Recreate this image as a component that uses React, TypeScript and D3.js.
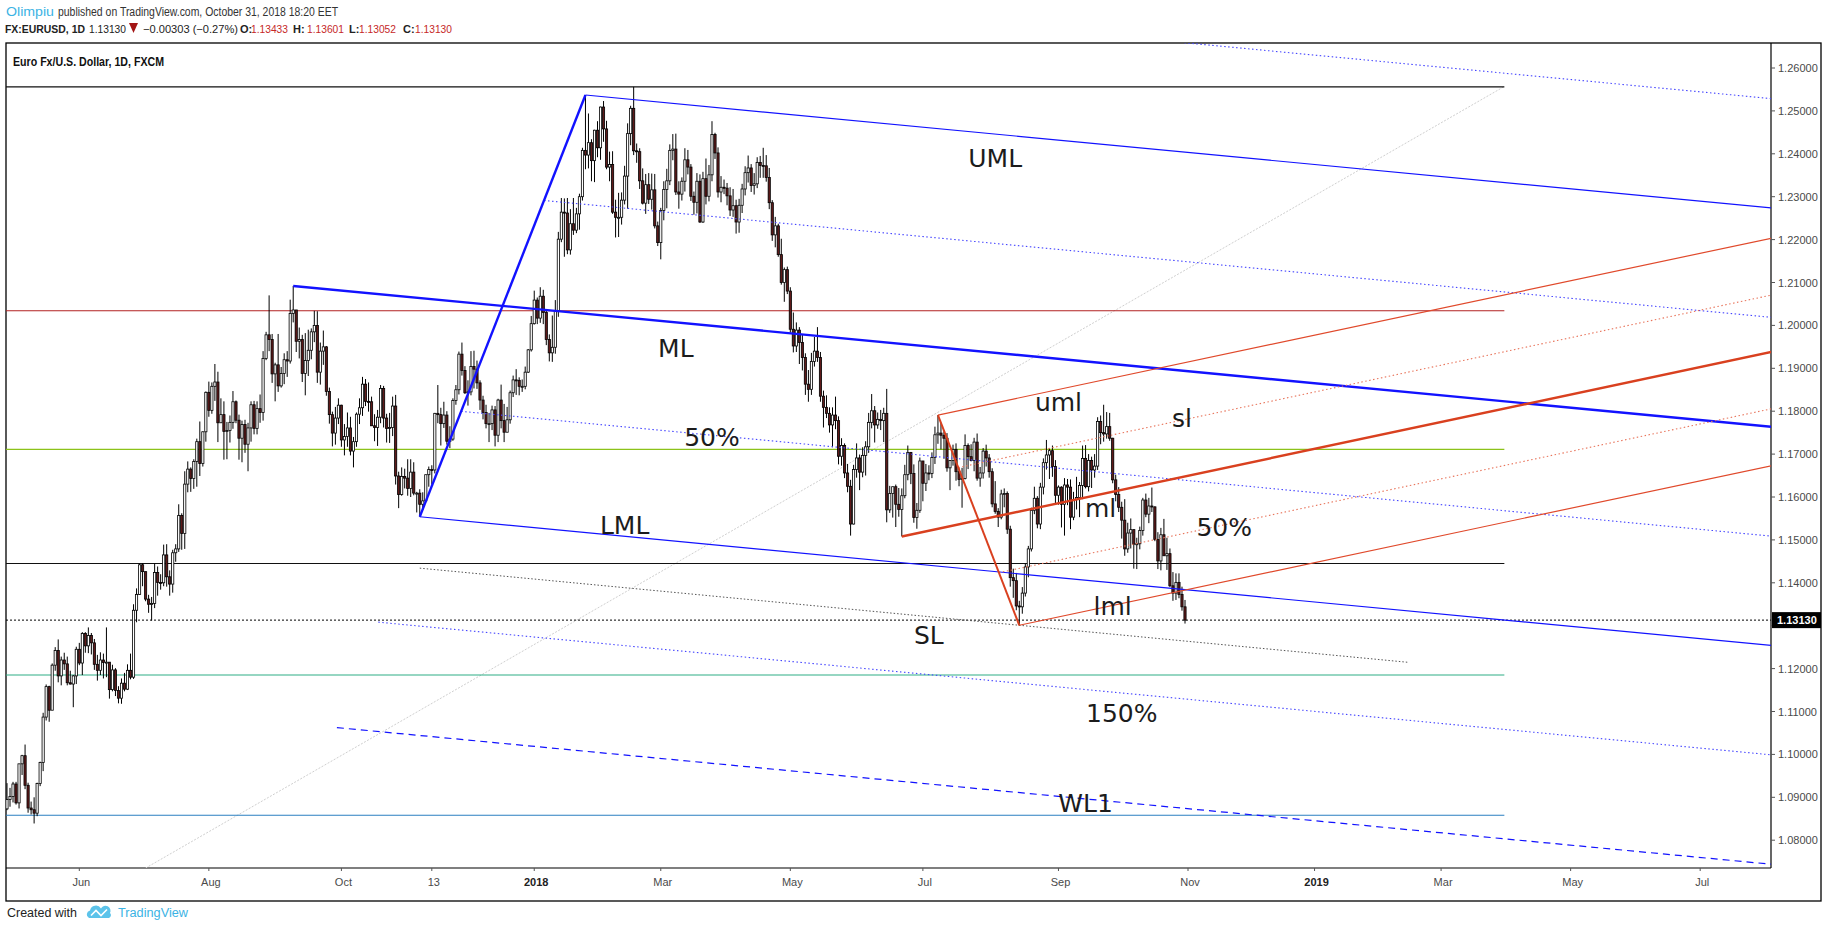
import React from 'react';
import * as d3 from 'd3';

// Daily bars, [high, low, close] in pips (price x 10000); open = previous close
const firstOpen = 10873;
const apr2017 = [[10933, 10870, 10895]];
const may2017 = [
  [10922, 10878, 10902], [10936, 10888, 10931], [10936, 10883, 10887], [10978, 10874, 10978], [10999, 10952, 10997],
  [11023, 10919, 10928], [10934, 10864, 10875], [10890, 10860, 10871], [10900, 10839, 10863], [10934, 10856, 10932],
  [10983, 10926, 10981], [11097, 10961, 11087], [11163, 11079, 11158], [11160, 11076, 11103], [11212, 11104, 11208],
  [11250, 11195, 11242], [11268, 11168, 11183], [11228, 11161, 11220], [11237, 11197, 11211], [11228, 11161, 11167],
  [11195, 11163, 11164], [11185, 11110, 11183], [11251, 11164, 11245],
];
const jun2017 = [
  [11260, 11208, 11213], [11285, 11185, 11282],
  [11285, 11237, 11253], [11296, 11236, 11277], [11283, 11233, 11260], [11269, 11197, 11210], [11232, 11172, 11196],
  [11238, 11185, 11220], [11235, 11177, 11214], [11296, 11180, 11215], [11213, 11130, 11151], [11209, 11147, 11197],
  [11201, 11136, 11149], [11159, 11119, 11131], [11177, 11118, 11166], [11190, 11147, 11152], [11210, 11150, 11196],
  [11235, 11175, 11180], [11350, 11176, 11336], [11387, 11308, 11373], [11445, 11372, 11442], [11446, 11392, 11426],
];
const jul2017 = [
  [11424, 11357, 11362], [11372, 11330, 11350], [11367, 11312, 11352], [11445, 11341, 11424], [11438, 11370, 11401],
  [11420, 11384, 11400], [11489, 11392, 11465], [11490, 11391, 11414], [11429, 11370, 11397], [11477, 11377, 11470],
  [11490, 11449, 11479], [11583, 11472, 11557], [11562, 11477, 11515], [11660, 11479, 11630], [11683, 11611, 11665],
  [11669, 11612, 11643], [11688, 11619, 11683], [11736, 11624, 11729], [11776, 11649, 11678], [11753, 11671, 11752],
  [11846, 11729, 11844],
];
const aug2017 = [
  [11869, 11787, 11802], [11867, 11794, 11858], [11910, 11824, 11868], [11892, 11728, 11773],
  [11830, 11774, 11792], [11823, 11687, 11753], [11775, 11688, 11755], [11790, 11727, 11774], [11847, 11759, 11822],
  [11825, 11772, 11779], [11792, 11687, 11737], [11778, 11681, 11769], [11780, 11703, 11723], [11773, 11660, 11761],
  [11823, 11729, 11815], [11824, 11746, 11760], [11823, 11746, 11806], [11839, 11773, 11797], [11940, 11778, 11923],
  [11985, 11919, 11978], [12070, 11940, 11967], [11980, 11866, 11887], [11913, 11823, 11908],
];
const sep2017 = [
  [11980, 11845, 11859],
  [11903, 11855, 11888], [11935, 11863, 11920], [11940, 11880, 11917], [12060, 11911, 12028], [12092, 12007, 12036],
  [12000, 11938, 11963], [11995, 11923, 11967], [11978, 11868, 11888], [11982, 11837, 11918], [11990, 11882, 11942],
  [11993, 11921, 11985], [12034, 11961, 12000], [12033, 11866, 11891], [11960, 11862, 11940], [11988, 11908, 11950],
  [11952, 11836, 11846], [11855, 11771, 11792], [11799, 11718, 11749], [11810, 11722, 11784], [11830, 11770, 11814],
];
const oct2017 = [
  [11815, 11717, 11733], [11770, 11697, 11741], [11797, 11717, 11761], [11787, 11697, 11707], [11740, 11669, 11729],
  [11797, 11717, 11793], [11830, 11770, 11808], [11880, 11789, 11863], [11875, 11812, 11823], [11867, 11799, 11822],
  [11834, 11766, 11766], [11793, 11730, 11762], [11803, 11719, 11786], [11861, 11772, 11853], [11859, 11762, 11784],
  [11794, 11727, 11760], [11796, 11726, 11762], [11834, 11742, 11812], [11838, 11629, 11649], [11659, 11574, 11606],
  [11669, 11603, 11648], [11666, 11620, 11644],
];
const nov2017 = [
  [11688, 11603, 11620], [11688, 11600, 11658], [11681, 11604, 11609],
  [11612, 11564, 11609], [11618, 11554, 11583], [11611, 11570, 11591], [11650, 11588, 11652], [11671, 11624, 11664],
  [11674, 11629, 11663], [11796, 11655, 11795], [11861, 11772, 11792], [11808, 11720, 11771], [11822, 11761, 11791],
  [11800, 11722, 11730], [11765, 11714, 11735], [11830, 11731, 11825], [11861, 11815, 11850], [11939, 11839, 11933],
  [11960, 11883, 11895], [11905, 11840, 11843], [11872, 11813, 11845], [11940, 11837, 11904],
];
const dec2017 = [
  [11941, 11853, 11898],
  [11918, 11852, 11866], [11872, 11803, 11826], [11836, 11781, 11797], [11815, 11760, 11771], [11796, 11728, 11771],
  [11813, 11756, 11803], [11812, 11718, 11744], [11829, 11728, 11826], [11862, 11760, 11778], [11817, 11728, 11751],
  [11810, 11755, 11780], [11848, 11771, 11843], [11883, 11833, 11873], [11898, 11838, 11872], [11879, 11837, 11858],
  [11874, 11845, 11858], [11904, 11851, 11891], [11945, 11889, 11943], [12022, 11939, 12004],
];
const jan2018 = [
  [12081, 12002, 12059], [12065, 12003, 12017], [12089, 12006, 12068], [12083, 12003, 12030],
  [12036, 11954, 11967], [11979, 11916, 11936], [12023, 11915, 11949], [12059, 11934, 12034], [12218, 12020, 12201],
  [12297, 12194, 12264], [12296, 12160, 12262], [12297, 12166, 12176], [12271, 12165, 12237], [12297, 12211, 12222],
  [12274, 12215, 12260], [12307, 12223, 12300], [12414, 12291, 12408], [12537, 12364, 12397], [12494, 12366, 12426],
  [12434, 12336, 12384], [12456, 12334, 12455], [12476, 12392, 12414],
];
const feb2018 = [
  [12510, 12386, 12509], [12523, 12428, 12458],
  [12477, 12364, 12369], [12405, 12336, 12375], [12406, 12260, 12264], [12293, 12205, 12252], [12309, 12206, 12252],
  [12310, 12235, 12292], [12372, 12282, 12348], [12471, 12272, 12447], [12512, 12420, 12506], [12556, 12397, 12407],
  [12424, 12379, 12405], [12413, 12318, 12337], [12366, 12282, 12285], [12353, 12260, 12328], [12355, 12283, 12294],
  [12354, 12270, 12316], [12353, 12226, 12232], [12242, 12185, 12193],
];
const mar2018 = [
  [12274, 12154, 12268], [12336, 12245, 12317],
  [12365, 12273, 12337], [12422, 12327, 12408], [12446, 12385, 12411], [12447, 12304, 12311], [12336, 12272, 12306],
  [12345, 12291, 12336], [12413, 12312, 12386], [12409, 12352, 12369], [12376, 12290, 12301], [12312, 12258, 12287],
  [12355, 12261, 12336], [12352, 12239, 12241], [12358, 12239, 12342], [12389, 12282, 12301], [12374, 12289, 12351],
  [12476, 12336, 12445], [12449, 12388, 12402], [12415, 12298, 12311], [12348, 12287, 12322], [12340, 12306, 12320],
];
const apr2018 = [
  [12332, 12280, 12302], [12322, 12255, 12269], [12318, 12253, 12279], [12293, 12214, 12241], [12295, 12216, 12280],
  [12330, 12262, 12318], [12371, 12303, 12356], [12396, 12333, 12367], [12376, 12311, 12326], [12355, 12305, 12330],
  [12392, 12320, 12380], [12395, 12344, 12373], [12414, 12344, 12372], [12397, 12335, 12345], [12367, 12271, 12286],
  [12292, 12197, 12211], [12253, 12182, 12232], [12237, 12160, 12165], [12202, 12095, 12100], [12135, 12055, 12130],
  [12137, 12073, 12080],
];
const may2018 = [
  [12089, 11983, 11991], [12030, 11937, 11952], [12007, 11938, 11989], [11996, 11910, 11960],
  [11979, 11895, 11925], [11935, 11838, 11863], [11896, 11822, 11851], [11936, 11838, 11916], [11973, 11904, 11940],
  [11996, 11915, 11925], [11938, 11822, 11835], [11848, 11762, 11809], [11837, 11784, 11795], [11809, 11750, 11768],
  [11809, 11716, 11791], [11834, 11758, 11778], [11788, 11676, 11695], [11737, 11673, 11720], [11725, 11644, 11656],
  [11677, 11611, 11625], [11640, 11510, 11537], [11675, 11536, 11664], [11725, 11645, 11691],
];
const jun2018 = [
  [11699, 11616, 11658],
  [11716, 11646, 11697], [11730, 11650, 11717], [11796, 11703, 11774], [11840, 11760, 11801], [11812, 11727, 11768],
  [11797, 11759, 11781], [11803, 11756, 11778], [11808, 11728, 11795], [11852, 11541, 11570], [11626, 11563, 11608],
  [11622, 11552, 11624], [11629, 11530, 11583], [11621, 11554, 11571], [11620, 11508, 11603], [11675, 11597, 11652],
  [11720, 11639, 11704], [11705, 11630, 11655], [11676, 11540, 11552], [11586, 11526, 11569], [11692, 11563, 11684],
];
const jul2018 = [
  [11680, 11590, 11632], [11677, 11614, 11656], [11674, 11639, 11655], [11704, 11644, 11692], [11764, 11677, 11745],
  [11791, 11724, 11749], [11773, 11711, 11744], [11753, 11689, 11737], [11749, 11659, 11668], [11686, 11616, 11685],
  [11722, 11673, 11711], [11725, 11638, 11659], [11667, 11625, 11641], [11668, 11575, 11643], [11746, 11641, 11720],
  [11725, 11665, 11694], [11723, 11683, 11685], [11738, 11660, 11728], [11748, 11638, 11644], [11670, 11624, 11656],
  [11714, 11643, 11707], [11722, 11671, 11691],
];
const aug2018 = [
  [11700, 11645, 11659], [11667, 11576, 11584], [11637, 11561, 11566],
  [11574, 11530, 11553], [11617, 11548, 11607], [11620, 11576, 11608], [11613, 11514, 11525], [11533, 11391, 11412],
  [11433, 11365, 11405], [11423, 11336, 11346], [11358, 11301, 11344], [11390, 11328, 11376], [11444, 11368, 11437],
  [11486, 11413, 11479], [11575, 11473, 11569], [11624, 11560, 11597], [11602, 11527, 11537], [11633, 11525, 11623],
  [11690, 11606, 11680], [11733, 11664, 11698], [11713, 11642, 11708], [11720, 11647, 11671], [11686, 11585, 11604],
];
const sep2018 = [
  [11627, 11582, 11623], [11625, 11529, 11583], [11644, 11510, 11628], [11642, 11581, 11623], [11641, 11525, 11553],
  [11612, 11546, 11594], [11647, 11571, 11599], [11635, 11553, 11627], [11720, 11595, 11690], [11721, 11620, 11624],
  [11700, 11613, 11685], [11694, 11621, 11663], [11700, 11645, 11672], [11786, 11663, 11776], [11790, 11723, 11750],
  [11815, 11729, 11747], [11798, 11736, 11764], [11796, 11731, 11737], [11738, 11632, 11640], [11652, 11590, 11606],
];
const oct2018 = [
  [11623, 11565, 11576], [11589, 11503, 11546], [11595, 11463, 11479], [11540, 11470, 11516], [11550, 11480, 11524],
  [11509, 11433, 11490], [11505, 11432, 11491], [11531, 11478, 11522], [11598, 11510, 11593], [11608, 11553, 11560],
  [11598, 11539, 11579], [11622, 11565, 11577], [11578, 11497, 11501], [11518, 11432, 11451], [11528, 11429, 11512],
  [11549, 11463, 11463], [11505, 11430, 11468], [11480, 11390, 11393], [11425, 11358, 11376], [11422, 11360, 11401],
  [11422, 11364, 11373], [11391, 11335, 11344], [11360, 11305, 11313],
];
const months = [apr2017, may2017, jun2017, jul2017, aug2017, sep2017, oct2017, nov2017, dec2017,
  jan2018, feb2018, mar2018, apr2018, may2018, jun2018, jul2018, aug2018, sep2018, oct2018];

const holidays = ['2017-12-25', '2018-01-01', '2018-12-25', '2019-01-01'];
const lastPrice = 1.1313;

// horizontal levels
const hLevels = [
  { price: 1.2556, color: '#111' },
  { price: 1.2034, color: '#b22222' },
  { price: 1.1711, color: '#8cc21a' },
  { price: 1.1445, color: '#111' },
  { price: 1.1185, color: '#2fae86' },
  { price: 1.0858, color: '#2b7fc1' },
];
const hLevelEnd = '2019-04-01';

// pitchfork anchors
const blueA = { date: '2017-09-08', price: 1.2092 };
const blueB = { date: '2018-01-25', price: 1.2537 };
const blueC = { date: '2017-11-07', price: 1.1554 };
const redA = { date: '2018-06-21', price: 1.1508 };
const redB = { date: '2018-07-09', price: 1.1791 };
const redC = { date: '2018-08-15', price: 1.1301 };
const slSpan = ['2017-11-07', '2019-02-14'];
const grayLine = [{ date: '2017-07-03', price: 1.0735 }, { date: '2019-04-01', price: 1.2557 }];

const notes = [
  { text: 'UML', date: '2018-08-03', price: 1.2389 },
  { text: 'ML', date: '2018-03-08', price: 1.1946 },
  { text: '50%', date: '2018-03-26', price: 1.1739 },
  { text: 'LML', date: '2018-02-13', price: 1.1533 },
  { text: 'uml', date: '2018-09-03', price: 1.1821 },
  { text: 'sl', date: '2018-10-30', price: 1.1783 },
  { text: 'ml', date: '2018-09-21', price: 1.1574 },
  { text: '50%', date: '2018-11-19', price: 1.1528 },
  { text: 'lml', date: '2018-09-27', price: 1.1345 },
  { text: 'SL', date: '2018-07-04', price: 1.1277 },
  { text: '150%', date: '2018-10-02', price: 1.1095 },
  { text: 'WL1', date: '2018-09-14', price: 1.0886 },
];

const timeTicks = [
  { date: '2017-06-01', label: 'Jun' }, { date: '2017-08-01', label: 'Aug' }, { date: '2017-10-02', label: 'Oct' },
  { date: '2017-11-13', label: '13' }, { date: '2018-01-02', label: '2018', year: true }, { date: '2018-03-01', label: 'Mar' },
  { date: '2018-05-01', label: 'May' }, { date: '2018-07-02', label: 'Jul' }, { date: '2018-09-03', label: 'Sep' },
  { date: '2018-11-01', label: 'Nov' }, { date: '2019-01-02', label: '2019', year: true }, { date: '2019-03-01', label: 'Mar' },
  { date: '2019-05-01', label: 'May' }, { date: '2019-07-01', label: 'Jul' },
];
const priceTicks = d3.range(108, 127).map(v => v / 100);

// trading calendar
const dayKey = d3.utcFormat('%Y-%m-%d');
const tradingDays = d3.utcDay
  .range(new Date(Date.UTC(2017, 3, 28)), new Date(Date.UTC(2019, 9, 1)))
  .filter(d => d.getUTCDay() !== 0 && d.getUTCDay() !== 6)
  .map(dayKey)
  .filter(k => !holidays.includes(k));
const dayIndex = new Map(tradingDays.map((k, i) => [k, i] as [string, number]));
const idx = (date: string) => dayIndex.get(date) as number;

const PL = 6, PT = 43, PR = 1771, PB = 868, BR = 1821, BB = 901;

const x = d3.scaleLinear().domain([0, 391]).range([7, 1185]);
const y = d3.scaleLinear().domain([1.08, 1.26]).range([840.2, 68]);
const iRight = x.invert(PR) + 3;

type Pt = { i: number; p: number };
const pt = (a: { date: string; price: number }): Pt => ({ i: idx(a.date), p: a.price });

function forkLines(A: Pt, B: Pt, C: Pt, levels: { k: number; w: number; dash?: string; color: string }[]) {
  const M = { i: (B.i + C.i) / 2, p: (B.p + C.p) / 2 };
  const slope = (M.p - A.p) / (M.i - A.i);
  return levels.map(l => {
    const s = l.k === 0 ? A : { i: M.i + l.k * (B.i - M.i), p: M.p + l.k * (B.p - M.p) };
    return { ...l, x1: x(s.i), y1: y(s.p), x2: x(iRight), y2: y(s.p + (iRight - s.i) * slope) };
  });
}

export default function App() {
  let prev = firstOpen;
  const bars = months.flat().map(([h, l, c], i) => {
    const o = prev;
    prev = c;
    return { i, o: o / 1e4, h: h / 1e4, l: l / 1e4, c: c / 1e4 };
  });

  const bA = pt(blueA), bB = pt(blueB), bC = pt(blueC);
  const rA = pt(redA), rB = pt(redB), rC = pt(redC);
  const BLUE = '#1212ff', BLUE_DOT = '#4646ff', RED = '#e0492b', RED_DOT = '#e8755c';
  const blue = forkLines(bA, bB, bC, [
    { k: 0, w: 2.4, color: BLUE },
    { k: 1, w: 1.2, color: BLUE },
    { k: -1, w: 1.2, color: BLUE },
    { k: 0.5, w: 1.1, dash: '1.5 2.5', color: BLUE_DOT },
    { k: -0.5, w: 1.1, dash: '1.5 2.5', color: BLUE_DOT },
    { k: 1.5, w: 1.1, dash: '1.5 2.5', color: BLUE_DOT },
    { k: -1.5, w: 1.1, dash: '1.5 2.5', color: BLUE_DOT },
    { k: -2, w: 1.2, dash: '7 5', color: BLUE },
  ]);
  const red = forkLines(rA, rB, rC, [
    { k: 0, w: 2.4, color: '#d9401f' },
    { k: 1, w: 1.2, color: RED },
    { k: -1, w: 1.2, color: RED },
    { k: 0.5, w: 1.1, dash: '1.5 2.5', color: RED_DOT },
    { k: -0.5, w: 1.1, dash: '1.5 2.5', color: RED_DOT },
  ]);
  const blueSlope = ((bB.p + bC.p) / 2 - bA.p) / ((bB.i + bC.i) / 2 - bA.i);
  const slAt = (i: number) => rC.p + (i - rC.i) * blueSlope;
  const sl0 = idx(slSpan[0]), sl1 = idx(slSpan[1]);
  const g0 = pt(grayLine[0]), g1 = pt(grayLine[1]);
  const hEnd = x(idx(hLevelEnd));
  // the last-price box hides the price label it sits on
  const visibleTicks = priceTicks.filter(p => Math.abs(y(p) - y(lastPrice)) > 12);

  const font = "'Liberation Sans', Arial, sans-serif";
  const noteFont = "'DejaVu Sans', Verdana, sans-serif";

  return (
    <svg width={1828} height={930} style={{ position: 'absolute', left: 0, top: 0, background: '#fff' }}
      fontFamily={font}>
      <rect width={1828} height={930} fill="#fff" />
      <defs>
        <clipPath id="plot"><rect x={PL} y={PT} width={PR - PL} height={PB - PT} /></clipPath>
      </defs>

      {/* header */}
      <text x={6} y={16} fontSize={12.5} fill="#3bb3e4" textLength={48} lengthAdjust="spacingAndGlyphs">Olimpiu</text>
      <text x={58} y={16} fontSize={12} fill="#333" textLength={280} lengthAdjust="spacingAndGlyphs">
        published on TradingView.com, October 31, 2018 18:20 EET</text>
      <g fontSize={11} fill="#222">
        <text x={5} y={33} fontSize={10.4} fontWeight="bold" textLength={80} lengthAdjust="spacingAndGlyphs">FX:EURUSD, 1D</text>
        <text x={89} y={33} fontSize={10.4} textLength={37} lengthAdjust="spacingAndGlyphs">1.13130</text>
        <path d="M129,23 L138,23 L133.5,33 Z" fill="#a31515" />
        <text x={143} y={33} fontSize={10.8} textLength={95} lengthAdjust="spacingAndGlyphs">−0.00303 (−0.27%)</text>
        {[['O:', 240, '1.13433', 251], ['H:', 293, '1.13601', 307], ['L:', 349, '1.13052', 359], ['C:', 403, '1.13130', 415]]
          .map(([k, kx, v, vx]) => (
            <g key={k as string}>
              <text x={kx as number} y={33} fontWeight="bold">{k}</text>
              <text x={vx as number} y={33} fontSize={10.4} fill="#c62828" textLength={37} lengthAdjust="spacingAndGlyphs">{v}</text>
            </g>
          ))}
      </g>

      {/* frame */}
      <rect x={PL} y={PT} width={BR - PL} height={BB - PT} fill="none" stroke="#000" strokeWidth={1.3} />
      <line x1={PR} x2={PR} y1={PT} y2={PB} stroke="#000" strokeWidth={1.2} />
      <line x1={PL} x2={PR} y1={PB} y2={PB} stroke="#000" strokeWidth={1.2} />
      <text x={13} y={66} fontSize={12} fontWeight="bold" fill="#111" textLength={151} lengthAdjust="spacingAndGlyphs">
        Euro Fx/U.S. Dollar, 1D, FXCM</text>

      <g clipPath="url(#plot)">
        {/* faint trend line */}
        <line x1={x(g0.i)} y1={y(g0.p)} x2={x(g1.i)} y2={y(g1.p)} stroke="#cfcfcf" strokeWidth={1} strokeDasharray="2 1.5" />
        {/* horizontal levels */}
        {hLevels.map((h, k) => (
          <line key={k} x1={PL} x2={hEnd} y1={y(h.price)} y2={y(h.price)} stroke={h.color} strokeWidth={1.1} />
        ))}
        <line x1={PL} x2={PR} y1={y(lastPrice)} y2={y(lastPrice)} stroke="#000" strokeWidth={1} strokeDasharray="2 2" />
        {/* sliding line */}
        <line x1={x(sl0)} y1={y(slAt(sl0))} x2={x(sl1)} y2={y(slAt(sl1))} stroke="#555" strokeWidth={1} strokeDasharray="1.5 2" />

        {/* candles */}
        {bars.map(b => {
          const cx = x(b.i);
          const top = y(Math.max(b.o, b.c));
          const bot = y(Math.min(b.o, b.c));
          const up = b.c >= b.o;
          return (
            <g key={b.i}>
              <line x1={cx} x2={cx} y1={y(Math.max(b.h, b.o, b.c))} y2={y(Math.min(b.l, b.o, b.c))} stroke="#000" strokeWidth={1} />
              <rect x={cx - 1.1} y={top} width={2.2} height={Math.max(1, bot - top)}
                fill={up ? '#fff' : '#5e1a1a'} stroke="#000" strokeWidth={0.8} />
            </g>
          );
        })}

        {/* pitchforks */}
        {[...blue, ...red].map((l, k) => (
          <line key={k} x1={l.x1} y1={l.y1} x2={l.x2} y2={l.y2} stroke={l.color} strokeWidth={l.w}
            strokeDasharray={l.dash} />
        ))}
        <line x1={x(bC.i)} y1={y(bC.p)} x2={x(bB.i)} y2={y(bB.p)} stroke={BLUE} strokeWidth={2.4} />
        <line x1={x(rB.i)} y1={y(rB.p)} x2={x(rC.i)} y2={y(rC.p)} stroke="#d9401f" strokeWidth={2} />

        {notes.map((n, k) => (
          <text key={k} x={x(idx(n.date))} y={y(n.price)} fontFamily={noteFont} fontSize={25} fill="#1c1c1c"
            textAnchor="middle" dominantBaseline="central">{n.text}</text>
        ))}
      </g>

      {/* price axis */}
      <g fontSize={11} fill="#4a4a4a">
        {priceTicks.map(p => (
          <line key={p} x1={PR} x2={PR + 4} y1={y(p)} y2={y(p)} stroke="#555" />
        ))}
        {visibleTicks.map(p => (
          <text key={p} x={1778} y={y(p)} dominantBaseline="central">{p.toFixed(5)}</text>
        ))}
        <rect x={PR + 1} y={y(lastPrice) - 8} width={BR - PR - 1} height={16} fill="#000" />
        <text x={1777} y={y(lastPrice)} dominantBaseline="central" fill="#fff" fontWeight="bold">{lastPrice.toFixed(5)}</text>
      </g>

      {/* time axis */}
      <g fontSize={11} fill="#4a4a4a">
        {timeTicks.map(t => (
          <g key={t.date}>
            <line x1={x(idx(t.date))} x2={x(idx(t.date))} y1={PB} y2={PB + 3} stroke="#555" />
            <text x={x(idx(t.date)) + 2} y={886} textAnchor="middle" fontWeight={t.year ? 'bold' : 'normal'}
              fill={t.year ? '#222' : '#4a4a4a'}>{t.label}</text>
          </g>
        ))}
      </g>

      {/* footer */}
      <text x={7} y={917} fontSize={12.5} fill="#222" textLength={70} lengthAdjust="spacingAndGlyphs">Created with</text>
      <path d="M89,918 a4,4 0 0 1 1,-7.5 a6,6 0 0 1 11,-2 a5,5 0 0 1 9,4.5 a3,3 0 0 1 -1,5 Z" fill="#5cc3ea" />
      <polyline points="91,915.5 96,910.5 101,915.5 107,909.5" fill="none" stroke="#fff" strokeWidth={1.6} />
      <text x={118} y={917} fontSize={12.5} fill="#3bb3e4" textLength={70} lengthAdjust="spacingAndGlyphs">TradingView</text>
    </svg>
  );
}
